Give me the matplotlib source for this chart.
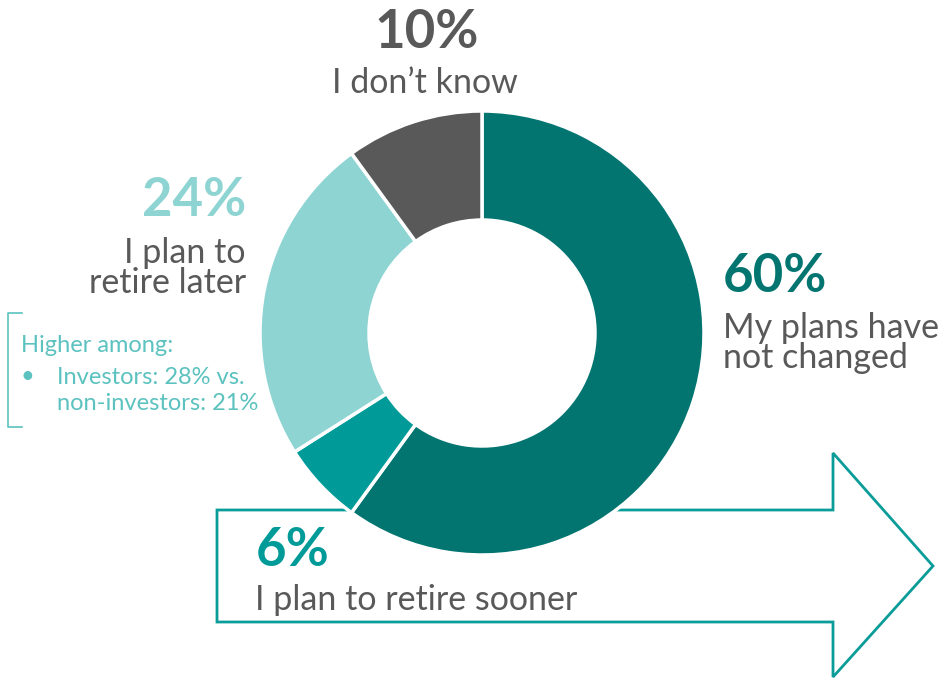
import matplotlib.pyplot as plt
from matplotlib.patches import Polygon

# data
labels = ["My plans have\nnot changed", "I plan to retire sooner", "I plan to\nretire later", "I don\u2019t know"]
shares = [60, 6, 24, 10]
pct_labels = ["60%", "6%", "24%", "10%"]
colors = ["#037571", "#009B98", "#8ED4D2", "#595959"]
note_lines = ["Higher among:", "Investors: 28% vs.", "non-investors: 21%"]

W, H = 953, 679
GRAY = "#595959"
plt.rcParams["font.family"] = ["Lato", "DejaVu Sans"]

fig = plt.figure(figsize=(W / 100, H / 100), dpi=100)
ax = fig.add_axes([0, 0, 1, 1])


def py(y):
    # pixel row -> data y
    return H - y


# arrow outline behind the donut
arrow = Polygon([(217, py(510)), (833, py(510)), (833, py(453)), (933, py(566)),
                 (833, py(677)), (833, py(622)), (217, py(622))],
                closed=True, fill=False, edgecolor="#0A9C98", linewidth=2, zorder=1)
ax.add_patch(arrow)

ax.pie(shares, colors=colors, startangle=90, counterclock=False,
       center=(482, py(333)), radius=222, frame=True,
       wedgeprops=dict(width=109, edgecolor="white", linewidth=2.5, zorder=2))

ax.set_xlim(0, W)
ax.set_ylim(0, H)
ax.set_aspect("equal")
ax.axis("off")

big = dict(fontsize=38, fontweight="bold")
lab = dict(fontsize=24.5, color=GRAY, linespacing=0.95)

# 10%
ax.text(427, py(32), pct_labels[3], color=colors[3], ha="center", va="center", **big)
ax.text(425, py(83), labels[3], ha="center", va="center", **lab)
# 24%
ax.text(246, py(200), pct_labels[2], color=colors[2], ha="right", va="center", **big)
ax.text(246, py(268), labels[2], ha="right", va="center", **lab)
# 60%
ax.text(723, py(277), pct_labels[0], color=colors[0], ha="left", va="center", **big)
ax.text(723, py(343), labels[0], ha="left", va="center", **lab)
# 6%
ax.text(256, py(551), pct_labels[1], color=colors[1], ha="left", va="center", **big)
ax.text(255, py(600), labels[1], ha="left", va="center", **lab)

# side note with bracket
NOTE = "#5BC2BF"
nfs = 17
ax.plot([22, 8, 8, 22], [py(313), py(313), py(427), py(427)], color=NOTE, lw=1.2)
ax.text(21, py(346), note_lines[0], color=NOTE, fontsize=nfs, ha="left", va="center")
ax.text(21, py(377), "\u2022", color=NOTE, fontsize=nfs, ha="left", va="center")
ax.text(57, py(377), note_lines[1], color=NOTE, fontsize=nfs, ha="left", va="center")
ax.text(57, py(403), note_lines[2], color=NOTE, fontsize=nfs, ha="left", va="center")

fig.savefig("out.png", dpi=100)
